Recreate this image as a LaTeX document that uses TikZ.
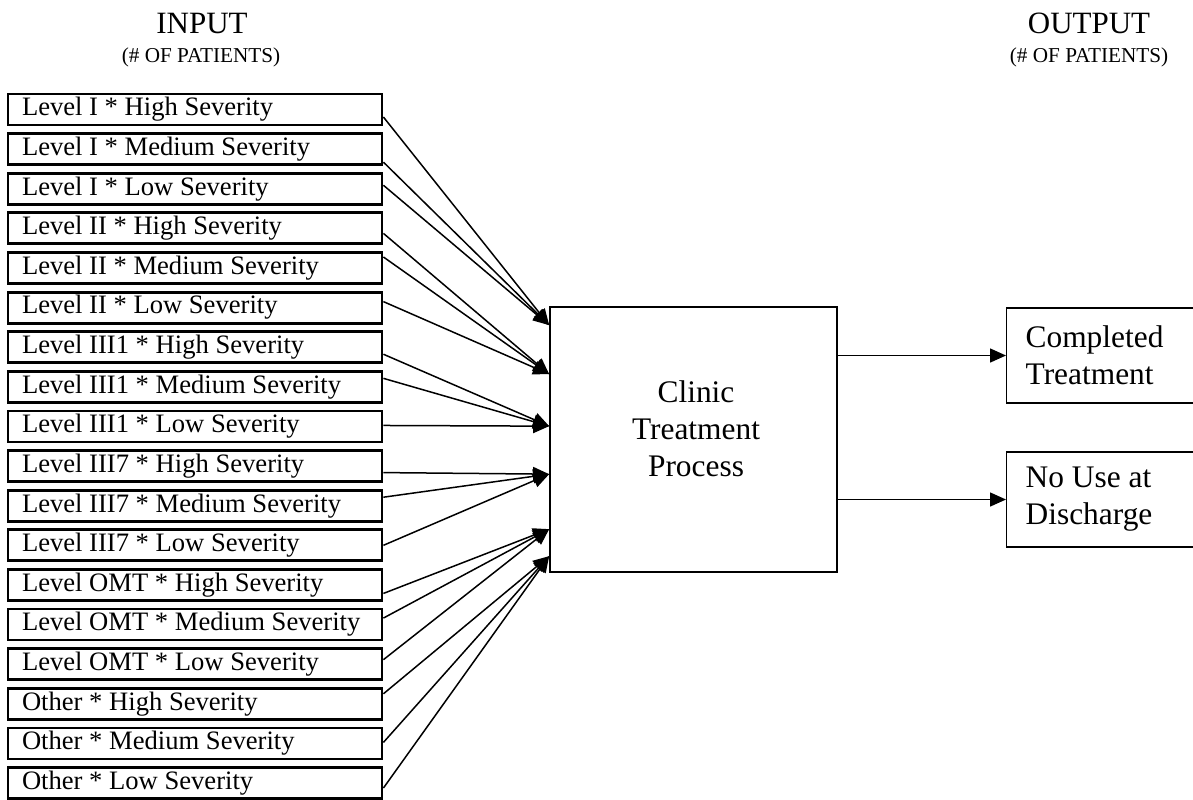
\documentclass[tikz,border=0pt]{standalone}
\usepackage{fontspec}
\setmainfont{Liberation Serif}
\usetikzlibrary{arrows.meta, calc}

\begin{document}
\begin{tikzpicture}[x=0.5pt, y=-0.5pt, line width=.75pt,
    inbox/.style={draw, line width=1.4pt, text width=173pt, inner xsep=7pt, inner ysep=0pt,
        minimum height=15.5pt, align=flush left, font=\fontsize{13.3}{15}\selectfont},
    procbox/.style={draw, line width=.85pt, minimum width=143.5pt, minimum height=132.5pt},
    proctext/.style={align=center, font=\fontsize{15.7}{18.5}\selectfont},
    outbox/.style={draw, line width=.65pt, anchor=west, text width=80pt, inner xsep=9.5pt,
        minimum height=47.5pt, align=flush left, font=\fontsize{15.7}{18.5}\selectfont},
    feed/.style={-{Triangle[length=8pt, width=7pt]}},
    bigtitle/.style={anchor=base, font=\fontsize{15.5}{18}\selectfont},
    smalltitle/.style={anchor=base, font=\fontsize{10.6}{12}\selectfont}]
    \useasboundingbox (0,0) rectangle (1193,799);

    % Ueberschriften.
    \node[bigtitle] (intitle) at (202,33) {INPUT};
    \node[smalltitle] (insub) at (201,62) {(\# OF PATIENTS)};
    \node[bigtitle] (outtitle) at (1089,33) {OUTPUT};
    \node[smalltitle] (outsub) at (1089,62) {(\# OF PATIENTS)};

    % Eingaenge.
    \foreach \lbl [count=\i] in {Level I * High Severity, Level I * Medium Severity,
        Level I * Low Severity, Level II * High Severity, Level II * Medium Severity,
        Level II * Low Severity, Level III1 * High Severity, Level III1 * Medium Severity,
        Level III1 * Low Severity, Level III7 * High Severity, Level III7 * Medium Severity,
        Level III7 * Low Severity, Level OMT * High Severity, Level OMT * Medium Severity,
        Level OMT * Low Severity, Other * High Severity, Other * Medium Severity,
        Other * Low Severity}
    {
        \node[inbox] (in\i) at (195,{109.5+(\i-1)*39.62}) {\lbl};
    }

    % Prozess.
    \node[procbox] (proc) at (693.5,439.5) {};
    \node[proctext] (proclbl) at (696,428.5) {Clinic\\Treatment\\Process};
    \foreach \k/\dy in {1/19, 2/68, 3/120, 4/168, 5/223, 6/250}
    {
        \coordinate (t\k) at ($(proc.north west)+(0,\dy)$);
    }

    % Ausgaenge.
    \node[outbox] (done) at (1006,355.5) {Completed\\Treatment};
    \node[outbox] (nouse) at (1006,499.5) {No Use at\\Discharge};

    % Pfeile.
    \foreach \i/\dy/\t in {1/7.5/1, 2/13/1, 3/-3.5/1, 4/5/2, 5/-11/2, 6/-6/2,
        7/7/3, 8/-8.5/3, 9/-1/3, 10/6.5/4, 11/-8.5/4, 12/0/4,
        13/8.5/5, 14/-6.5/5, 15/-4.5/5, 16/-10/6, 17/-1/6, 18/5/6}
    {
        \draw[feed] ($(in\i.east)+(0,\dy)$) -- (t\t);
    }
    \draw[feed] (proc.east |- done.west) -- (done.west);
    \draw[feed] (proc.east |- nouse.west) -- (nouse.west);
\end{tikzpicture}
\end{document}
